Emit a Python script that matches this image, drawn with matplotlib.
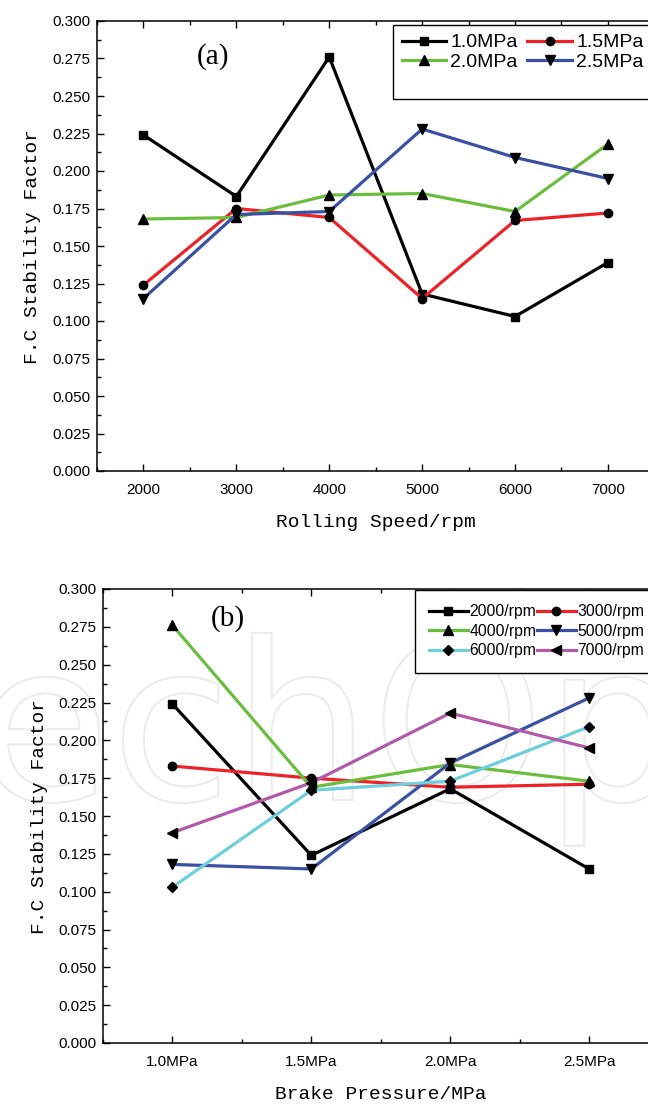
import matplotlib
matplotlib.use("Agg")
import matplotlib.pyplot as plt
import matplotlib.transforms as mtransforms
from matplotlib.ticker import MultipleLocator, FormatStrFormatter
from matplotlib.textpath import TextPath
from matplotlib.patches import PathPatch
from matplotlib.font_manager import FontProperties
from matplotlib.lines import Line2D

# rolling speeds (panel a x axis) and brake pressures (panel b x axis)
speeds = [2000, 3000, 4000, 5000, 6000, 7000]
pressures = [1.0, 1.5, 2.0, 2.5]
pressure_labels = ["1.0MPa", "1.5MPa", "2.0MPa", "2.5MPa"]
speed_labels = ["2000/rpm", "3000/rpm", "4000/rpm", "5000/rpm", "6000/rpm", "7000/rpm"]

# F.C stability factor, one list per brake pressure, over the rolling speeds
fc_10 = [0.224, 0.183, 0.276, 0.118, 0.103, 0.139]
fc_15 = [0.124, 0.175, 0.169, 0.115, 0.167, 0.172]
fc_20 = [0.168, 0.169, 0.184, 0.185, 0.173, 0.218]
fc_25 = [0.115, 0.171, 0.173, 0.228, 0.209, 0.195]
fc_by_pressure = [fc_10, fc_15, fc_20, fc_25]

colors_a = ["black", "#ec2227", "#6bbd3e", "#3a50a2"]
markers_a = ["s", "o", "^", "v"]
colors_b = ["black", "#ec2227", "#6bbd3e", "#3a50a2", "#6dcfdb", "#b15aa9"]
markers_b = ["s", "o", "^", "v", "D", "<"]

tick_font = "Liberation Sans"
label_font = "Liberation Mono"
lw = 2.3

fig = plt.figure(figsize=(6.48, 11.05), dpi=100)

# faint watermark behind panel (b)
wm_path = TextPath((0, 0), "IntechOpen", size=220, prop=FontProperties(family="DejaVu Sans"))
wm = PathPatch(wm_path, facecolor="none", edgecolor="#ececec", lw=1.5,
               transform=mtransforms.Affine2D().translate(-315, 305), zorder=-5)
fig.add_artist(wm)

ax_a = fig.add_axes([97 / 648, 634 / 1105, 557.4 / 648, 450 / 1105])
ax_b = fig.add_axes([103 / 648, 62 / 1105, 555.5 / 648, 454 / 1105])


def style_axes(ax):
    ax.patch.set_alpha(0)
    for s in ax.spines.values():
        s.set_linewidth(1.1)
    ax.set_ylim(0, 0.3)
    ax.yaxis.set_major_locator(MultipleLocator(0.025))
    ax.yaxis.set_minor_locator(MultipleLocator(0.0125))
    ax.yaxis.set_major_formatter(FormatStrFormatter("%.3f"))
    ax.tick_params(which="both", direction="in", top=True, right=False, width=1.0)
    ax.tick_params(which="major", length=5, labelsize=11)
    ax.tick_params(which="minor", length=3)
    ax.tick_params(axis="x", which="major", pad=9)
    ax.tick_params(axis="y", which="major", pad=5)
    for t in ax.get_xticklabels() + ax.get_yticklabels():
        t.set_fontfamily(tick_font)


def blank_handle():
    return Line2D([], [], color="none")


# ---- panel (a)
handles = []
for i in range(4):
    h, = ax_a.plot(speeds, fc_by_pressure[i], color=colors_a[i], lw=lw,
                   marker=markers_a[i], markersize=7 if markers_a[i] in "^v" else 6,
                   markerfacecolor="black", markeredgecolor="black", label=pressure_labels[i])
    handles.append(h)
ax_a.set_xlim(1500, 7500)
ax_a.xaxis.set_major_locator(MultipleLocator(1000))
ax_a.xaxis.set_minor_locator(MultipleLocator(500))
style_axes(ax_a)
ax_a.set_xlabel("Rolling Speed/rpm", fontfamily=label_font, fontsize=14, labelpad=12)
ax_a.set_ylabel("F.C Stability Factor", fontfamily=label_font, fontsize=14, labelpad=8)
ax_a.text(0.208, 0.92, "(a)", transform=ax_a.transAxes, fontfamily="Liberation Serif",
          fontsize=21, ha="center", va="center")
leg_h = [handles[0], handles[2], blank_handle(), handles[1], handles[3], blank_handle()]
leg_l = [pressure_labels[0], pressure_labels[2], " ", pressure_labels[1], pressure_labels[3], " "]
leg = ax_a.legend(leg_h, leg_l, ncol=2, loc="upper left", bbox_to_anchor=(0.531, 0.991),
                  borderaxespad=0, prop={"family": tick_font, "size": 14},
                  handlelength=2.3, handletextpad=0.2, columnspacing=0.5,
                  labelspacing=0.1, borderpad=0.45, fancybox=False, framealpha=1)
leg.get_frame().set_edgecolor("black")
leg.get_frame().set_linewidth(1.0)

# ---- panel (b)
handles = []
for j in range(6):
    vals = [fc_by_pressure[i][j] for i in range(4)]
    m = markers_b[j]
    h, = ax_b.plot(pressures, vals, color=colors_b[j], lw=lw, marker=m,
                   markersize=7 if m in "^v<" else (6 if m != "D" else 5.5),
                   markerfacecolor="black", markeredgecolor="black", label=speed_labels[j])
    handles.append(h)
ax_b.set_xlim(0.75, 2.75)
ax_b.set_xticks(pressures)
ax_b.set_xticklabels(pressure_labels)
ax_b.xaxis.set_minor_locator(MultipleLocator(0.25))
style_axes(ax_b)
ax_b.set_xlabel("Brake Pressure/MPa", fontfamily=label_font, fontsize=14, labelpad=12)
ax_b.set_ylabel("F.C Stability Factor", fontfamily=label_font, fontsize=14, labelpad=7)
ax_b.text(0.225, 0.935, "(b)", transform=ax_b.transAxes, fontfamily="Liberation Serif",
          fontsize=21, ha="center", va="center")
leg_h = [handles[0], handles[2], handles[4], handles[1], handles[3], handles[5]]
leg_l = [speed_labels[0], speed_labels[2], speed_labels[4],
         speed_labels[1], speed_labels[3], speed_labels[5]]
leg = ax_b.legend(leg_h, leg_l, ncol=2, loc="upper left", bbox_to_anchor=(0.561, 0.998),
                  borderaxespad=0, prop={"family": tick_font, "size": 11.3},
                  handlelength=2.5, handletextpad=0.1, columnspacing=0.0,
                  labelspacing=0.3, borderpad=0.9, fancybox=False, framealpha=1)
leg.get_frame().set_edgecolor("black")
leg.get_frame().set_linewidth(1.0)

fig.savefig("out.png", dpi=100)
